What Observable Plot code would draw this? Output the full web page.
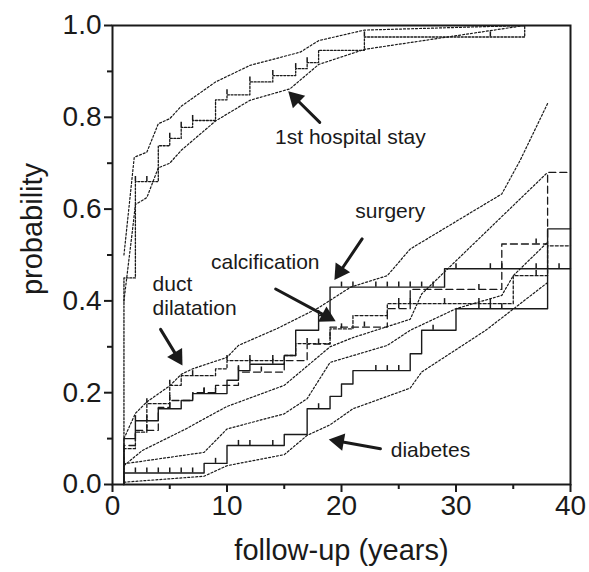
<!DOCTYPE html>
<html><head><meta charset="utf-8">
<script src="https://cdn.jsdelivr.net/npm/d3@7"></script>
<script src="https://cdn.jsdelivr.net/npm/@observablehq/plot@0.6"></script>
<style>body{margin:0;background:#fff}</style>
</head><body><div id="chart"></div>
<script>
// ---- axis ticks ----
const xMajorTicks = [0, 10, 20, 30, 40];
const xMinorTicks = [5, 15, 25, 35];
const yMajorTicks = [0, 0.2, 0.4, 0.6, 0.8, 1.0];
const yMinorTicks = [0.1, 0.3, 0.5, 0.7, 0.9];

// ---- Kaplan-Meier step estimates [years, probability] ----
const hospitalKM = [[1,0],[1,0.45],[2,0.66],[4,0.738],[5,0.754],[6,0.778],[7,0.793],[9,0.838],[10,0.849],[12,0.877],[14,0.891],[16,0.906],[17,0.919],[18,0.946],[22,0.975],[36,1.0]];
const surgeryKM = [[1,0],[1,0.10],[2,0.139],[4,0.165],[6,0.183],[7,0.198],[10,0.227],[11,0.248],[12,0.262],[15,0.281],[16,0.336],[18,0.368],[19,0.43],[29,0.47],[40,0.47]];
const calcificationKM = [[1,0],[1,0.085],[2,0.118],[4,0.168],[5,0.183],[7,0.2],[9,0.216],[11,0.245],[15,0.27],[17,0.306],[19,0.343],[24,0.383],[26,0.425],[34,0.524],[38,0.68],[40,0.68]];
const ductKM = [[1,0],[1,0.078],[2,0.114],[3,0.176],[5,0.216],[6,0.237],[9,0.252],[10,0.27],[15,0.281],[16,0.307],[19,0.339],[21,0.368],[24,0.394],[35,0.455],[38,0.52],[40,0.52]];
const diabetesKM = [[1,0],[1,0.025],[8,0.046],[10,0.085],[15,0.109],[17,0.165],[19,0.192],[20,0.219],[21,0.248],[26,0.285],[27,0.336],[30,0.383],[38,0.557],[40,0.557]];

// ---- censoring marks (years) ----
const hospitalCensor = [2,3,5,6,7,10,12,14,16,17,22,33];
const surgeryCensor = [2,3,5,8,9,11,12,14,18,20,21,23,24,25,26,27,28,30,33,34,37,39];
const calcificationCensor = [3,5,8,11,13,18,22,25,32,37];
const ductCensor = [3,5,7,10,12,14,17,20,25,26,29,32,33,37];
const diabetesCensor = [2,3,4,5,6,7,9,11,12,14,18,23,24,25,28,32,33,34];

// ---- 95% confidence limits [years, probability] ----
const hospitalLower = [[1,0.40],[1.74,0.553],[2,0.61],[3,0.625],[4,0.69],[5,0.70],[6,0.728],[9,0.792],[12,0.837],[15.5,0.862],[18,0.915],[22,0.948],[36,1.0]];
const hospitalUpper = [[1,0.5],[1.9,0.713],[3,0.724],[4,0.786],[5,0.797],[6,0.824],[9,0.877],[12,0.913],[16.4,0.942],[18,0.967],[22,0.99],[36,1.0]];
const ciLineA = [[1,0.10],[2,0.155],[3,0.18],[5,0.215],[6,0.24],[7,0.252],[10,0.277],[11,0.303],[14.4,0.34],[18,0.385],[20.8,0.43],[24,0.455],[26,0.513],[34,0.633],[35.6,0.706],[38,0.83]];
const ciLineB = [[1,0.041],[2.6,0.074],[6.4,0.121],[8,0.143],[10,0.17],[15,0.216],[19,0.3],[21,0.32],[26,0.36],[27,0.415],[38,0.68]];
const ciLineC = [[1,0.045],[8,0.07],[10,0.121],[15,0.154],[17,0.187],[19,0.266],[24,0.303],[26,0.336],[30,0.383],[34,0.412],[35,0.455],[38,0.528]];
const ciLineD = [[1,0.005],[8,0.018],[10,0.041],[15,0.065],[17,0.107],[19,0.13],[21,0.165],[26,0.21],[27,0.245],[32.6,0.336],[38,0.44]];

// ---- annotations ----
const labelText = ["1st hospital stay", "surgery", "calcification", "duct", "dilatation", "diabetes"];
const labelX = [14.2, 21.2, 8.6, 3.5, 3.5, 24.3];
const labelY = [0.756, 0.595, 0.484, 0.436, 0.383, 0.074];
const arrowFromX = [18.1, 21.8, 14.25, 4.2, 23.4];
const arrowFromY = [0.789, 0.535, 0.426, 0.338, 0.078];
const arrowToX = [15.5, 19.5, 19.3, 6.0, 19.1];
const arrowToY = [0.853, 0.450, 0.358, 0.264, 0.097];

// ---- layout ----
const W = 589, H = 572, mL = 112, mR = 19, mT = 25, mB = 88;
const xDomain = [0, 40], yDomain = [0, 1];
const kx = (W - mL - mR) / (xDomain[1] - xDomain[0]);
const ky = (H - mT - mB) / (yDomain[1] - yDomain[0]);

// ---- helpers ----
const pts = (arr) => arr.map(([x, y]) => ({x, y}));
function stepY(series, x) { let y = 0; for (const [sx, sy] of series) if (sx <= x) y = sy; return y; }
const censorPts = (series, xs) => xs.map(x => ({x, y: stepY(series, x)}));

const ink = "#1a1a1a";
const kmLine = (arr, dash, w = 1.3) => Plot.line(pts(arr), {x: "x", y: "y", curve: "step-after", stroke: ink, strokeWidth: w, strokeDasharray: dash});
const ciLine = (arr) => Plot.line(pts(arr), {x: "x", y: "y", stroke: ink, strokeWidth: 1.2, strokeDasharray: "2,2"});
const censor = (series, xs) => Plot.ruleX(censorPts(series, xs), {x: "x", y1: "y", y2: d => d.y + 0.011, stroke: ink, strokeWidth: 1.5});

const labels = labelText.map((t, i) => ({t, x: labelX[i], y: labelY[i]}));
const arrows = arrowFromX.map((x1, i) => ({x1, y1: arrowFromY[i], x2: arrowToX[i], y2: arrowToY[i]}));

// filled arrow heads: a triangle symbol rotated along the shaft, pulled back so its tip sits at the head point
const headR = 6.5;
const tipOffset = 0.62 * headR * 1.9; // approx. centroid-to-tip distance for d3.symbolTriangle
const headMarks = arrows.map(a => {
  const dxp = (a.x2 - a.x1) * kx, dyp = -(a.y2 - a.y1) * ky;
  const len = Math.hypot(dxp, dyp), ux = dxp / len, uy = dyp / len;
  const angle = Math.atan2(ux, -uy) * 180 / Math.PI;
  return Plot.dot([a], {x: "x2", y: "y2", symbol: "triangle", r: headR, rotate: angle, fill: ink, stroke: "none",
    dx: -ux * tipOffset, dy: -uy * tipOffset});
});

const chart = Plot.plot({
  width: W, height: H,
  marginLeft: mL, marginRight: mR, marginTop: mT, marginBottom: mB,
  x: {domain: xDomain, label: null},
  y: {domain: yDomain, label: null},
  style: {fontFamily: "Liberation Sans, Arial, sans-serif", fontSize: "28px", color: ink, background: "#fff"},
  marks: [
    // confidence limits
    ciLine(hospitalLower), ciLine(hospitalUpper),
    ciLine(ciLineA), ciLine(ciLineB), ciLine(ciLineC), ciLine(ciLineD),
    // KM curves
    kmLine(hospitalKM, "2,1.6", 1.3),
    kmLine(surgeryKM, null, 1.4),
    kmLine(calcificationKM, "7,4", 1.3),
    kmLine(ductKM, "3,2", 1.3),
    kmLine(diabetesKM, null, 1.4),
    censor(hospitalKM, hospitalCensor),
    censor(surgeryKM, surgeryCensor),
    censor(calcificationKM, calcificationCensor),
    censor(ductKM, ductCensor),
    censor(diabetesKM, diabetesCensor),
    // annotations
    Plot.arrow(arrows, {x1: "x1", y1: "y1", x2: "x2", y2: "y2", stroke: ink, strokeWidth: 3, headLength: 0, insetEnd: 9}),
    ...headMarks,
    Plot.text(labels, {x: "x", y: "y", text: "t", textAnchor: "start", lineAnchor: "middle", fontSize: 21, fill: ink}),
    // frame and axes
    Plot.frame({stroke: ink, strokeWidth: 2}),
    Plot.axisX({ticks: xMajorTicks, tickSize: 8, tickPadding: 3, tickFormat: d3.format("d"), label: null, strokeWidth: 2, fontSize: 28}),
    Plot.axisX({ticks: xMinorTicks, tickSize: 5, tickFormat: () => "", label: null, strokeWidth: 2}),
    Plot.axisY({ticks: yMajorTicks, tickSize: 8, tickPadding: 3, tickFormat: d3.format(".1f"), label: null, strokeWidth: 2, fontSize: 28}),
    Plot.axisY({ticks: yMinorTicks, tickSize: 5, tickFormat: () => "", label: null, strokeWidth: 2}),
    Plot.text(["follow-up (years)"], {frameAnchor: "bottom", textAnchor: "middle", lineAnchor: "middle", dy: 66, fontSize: 29, fill: ink}),
    Plot.text(["probability"], {frameAnchor: "left", textAnchor: "middle", lineAnchor: "middle", rotate: -90, dx: -80, dy: -26, fontSize: 29, fill: ink})
  ]
});
document.getElementById("chart").appendChild(chart);
</script>
</body></html>
